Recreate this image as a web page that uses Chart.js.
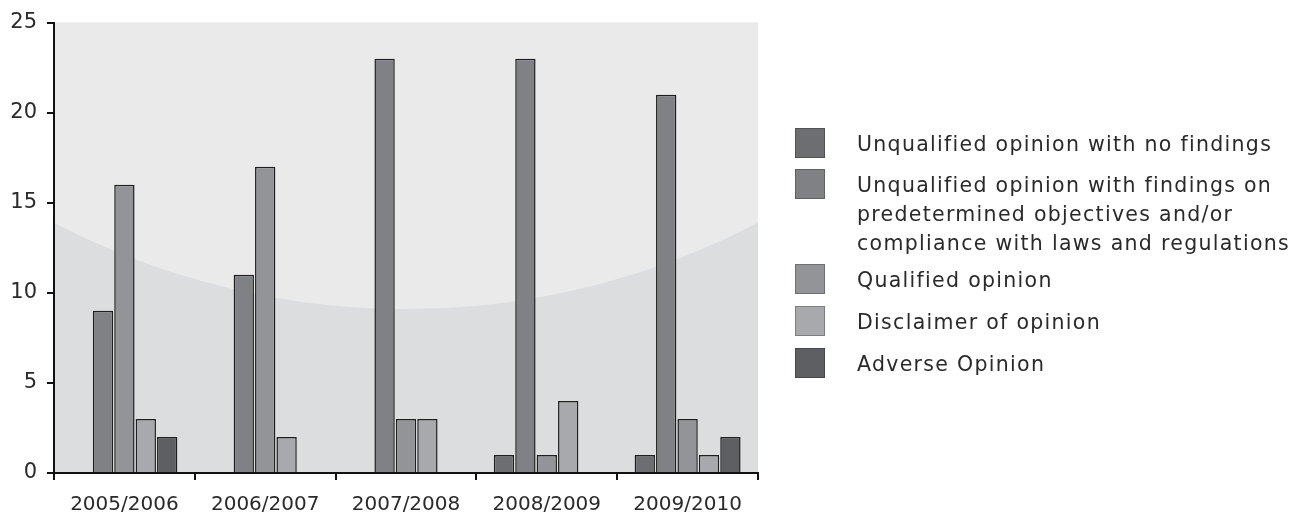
<!DOCTYPE html>
<html>
<head>
<meta charset="utf-8">
<script src="https://cdn.jsdelivr.net/npm/chart.js@4.4.0/dist/chart.umd.min.js"></script>
<style>
  html, body { margin: 0; padding: 0; background: #fff; }
  #wrap { position: relative; width: 1311px; height: 516px; }
  #legend { position: absolute; left: 795px; top: 0; font-family: 'DejaVu Sans', sans-serif; font-size: 20.5px; letter-spacing: 1.3px; color: #2a2a2a; }
  .item { position: absolute; left: 0; white-space: nowrap; }
  .swatch { position: absolute; left: 0; width: 30px; height: 30px; border: 1px solid rgba(0,0,0,0.25); box-sizing: border-box; }
  .text { position: absolute; left: 62px; top: 2px; line-height: 29px; }
</style>
</head>
<body>
<div id="wrap">
  <canvas id="chart" width="1311" height="516"></canvas>
  <div id="legend"></div>
</div>
<script>
const categories = ['2005/2006', '2006/2007', '2007/2008', '2008/2009', '2009/2010'];

const noFindings   = [0, 0, 0, 1, 1];
const withFindings = [9, 11, 23, 23, 21];
const qualified    = [16, 17, 3, 1, 3];
const disclaimer   = [3, 2, 3, 4, 1];
const adverse      = [2, 0, 0, 0, 2];

const seriesNames = [
  ['Unqualified opinion with no findings'],
  ['Unqualified opinion with findings on', 'predetermined objectives and/or', 'compliance with laws and regulations'],
  ['Qualified opinion'],
  ['Disclaimer of opinion'],
  ['Adverse Opinion']
];
const seriesColors = ['#6d6e71', '#808184', '#939497', '#a8a9ac', '#5e5f62'];
const seriesValues = [noFindings, withFindings, qualified, disclaimer, adverse];

// shaded backdrop: darker base with a large light disc over the upper part
const backdrop = {
  id: 'backdrop',
  beforeDraw(chart) {
    const { ctx, chartArea: a } = chart;
    const w = a.right - a.left, h = a.bottom - a.top;
    ctx.save();
    ctx.beginPath();
    ctx.rect(a.left, a.top, w, h);
    ctx.clip();
    ctx.fillStyle = '#dcdddf';
    ctx.fillRect(a.left, a.top, w, h);
    const r = w * 1.08;
    const cx = a.left + w * 0.5;
    const low = a.top + h * 0.636;
    ctx.beginPath();
    ctx.arc(cx, low - r, r, 0, Math.PI * 2);
    ctx.fillStyle = '#eaeaeb';
    ctx.fill();
    ctx.restore();
  }
};

const tickFont = { family: "'DejaVu Sans', sans-serif" };

new Chart(document.getElementById('chart'), {
  type: 'bar',
  data: {
    labels: categories,
    datasets: seriesValues.map((vals, i) => ({
      label: seriesNames[i].join(' '),
      data: vals,
      backgroundColor: seriesColors[i],
      borderColor: '#1e1e1e',
      borderWidth: 1.5,
      borderSkipped: 'start',
      categoryPercentage: 0.76,
      barPercentage: 0.95
    }))
  },
  options: {
    responsive: false,
    animation: false,
    layout: { padding: { left: 0, right: 553, top: 19, bottom: 0 } },
    plugins: { legend: { display: false }, tooltip: { enabled: false } },
    scales: {
      x: {
        afterFit(s) { s.height = 43; },
        border: { color: '#111', width: 2 },
        grid: { drawOnChartArea: false, color: '#111', lineWidth: 2, tickLength: 7, offset: true },
        ticks: { color: '#2a2a2a', font: { ...tickFont, size: 20 }, padding: 13 }
      },
      y: {
        min: 0, max: 25,
        afterFit(s) { s.width = 54; },
        border: { color: '#111', width: 2 },
        grid: { drawOnChartArea: false, color: '#111', lineWidth: 2, tickLength: 7 },
        ticks: { stepSize: 5, color: '#2a2a2a', font: { ...tickFont, size: 21 }, padding: 10 }
      }
    }
  },
  plugins: [backdrop]
});

// legend to the right of the plot
const legendTops = [128, 169, 264, 306, 348];
const legend = document.getElementById('legend');
seriesNames.forEach((lines, i) => {
  const item = document.createElement('div');
  item.className = 'item';
  item.style.top = legendTops[i] + 'px';
  const sw = document.createElement('div');
  sw.className = 'swatch';
  sw.style.background = seriesColors[i];
  const tx = document.createElement('div');
  tx.className = 'text';
  tx.innerHTML = lines.join('<br>');
  item.appendChild(sw);
  item.appendChild(tx);
  legend.appendChild(item);
});
</script>
</body>
</html>
